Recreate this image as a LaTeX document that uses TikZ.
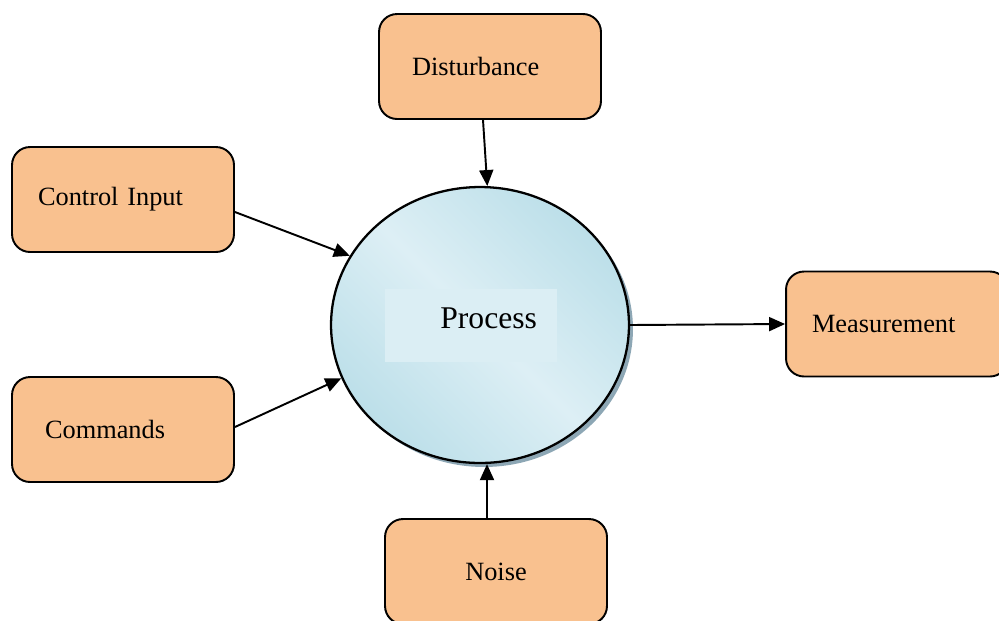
\documentclass[tikz,border=0pt]{standalone}
\usepackage{fontspec}
\setmainfont{Liberation Serif}
\usetikzlibrary{shapes.geometric,shadows,arrows.meta}
\definecolor{peach}{HTML}{F9C18F}
\definecolor{skylight}{HTML}{DDEFF5}
\definecolor{skydark}{HTML}{BCDFE9}
\definecolor{skybox}{HTML}{DBEEF4}
\definecolor{skyshadow}{HTML}{8DA7B5}
\tikzset{blockbox/.style={
    draw=black,
    line width=1.1pt,
    fill=peach,
    rounded corners=0.36cm,
    minimum width=4.44cm,
    minimum height=2.1cm,
    text width=3.12cm,
    inner xsep=0.66cm,
    align=left,
    font=\fontsize{15}{18}\selectfont}}
\tikzset{widebox/.style={
    blockbox,
    text width=3.4cm,
    inner xsep=0.52cm}}
\tikzset{procnode/.style={
    ellipse,
    draw=black,
    line width=1.3pt,
    minimum width=5.96cm,
    minimum height=5.52cm,
    top color=skydark,
    bottom color=skydark,
    middle color=skylight,
    shading angle=-45,
    drop shadow={shadow xshift=0.08cm,shadow yshift=-0.08cm,fill=skyshadow,opacity=1}}}
\tikzset{proclabel/.style={
    fill=skybox,
    minimum width=3.44cm,
    minimum height=1.46cm,
    text width=2.64cm,
    text depth=0.28cm,
    inner xsep=0.4cm,
    align=right,
    font=\fontsize{18}{22}\selectfont}}
\tikzset{flowarrow/.style={
    draw=black,
    line width=1.1pt,
    -{Triangle[length=0.32cm,width=0.28cm]}}}

\begin{document}
\begin{tikzpicture}[x=0.02cm,y=-0.02cm]
\useasboundingbox (0,0) rectangle (999,620);
\clip (0,0) rectangle (999,620);
\coordinate (P) at (480,325);

\node[blockbox] (disturb) at (490,66.5) {Disturbance};
\node[widebox] (ctrl) at (123,199.5) {Control Input};
\node[blockbox] (cmds) at (123,429.5) {Commands};
\node[widebox] (meas) at (897,324) {Measurement};
\node[blockbox,align=center] (noise) at (496,571.5) {Noise};

\node[procnode] (proc) at (P) {};
\node[proclabel] (proctext) at (471,325.5) {Process};

\path[flowarrow] ([xshift=-0.14cm]disturb.south) -- (proc.87);
\path[flowarrow] ([yshift=-0.25cm]ctrl.east) -- (proc.152);
\path[flowarrow] ([yshift=0.05cm]cmds.east) -- (proc.201);
\path[flowarrow] (proc.east) -- (meas.west);
\path[flowarrow] ([xshift=-0.18cm]noise.north) -- ([xshift=0.14cm]proc.south);
\end{tikzpicture}
\end{document}
